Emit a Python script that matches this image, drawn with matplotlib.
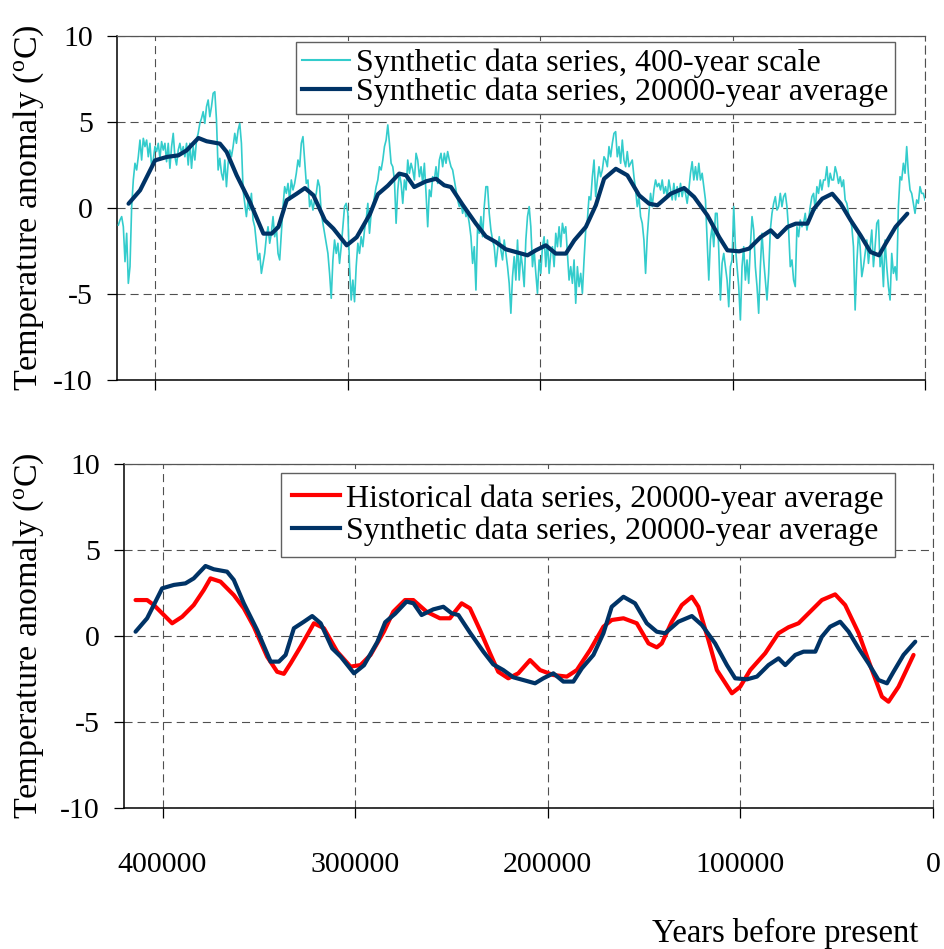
import numpy as np
import matplotlib
matplotlib.use("Agg")
import matplotlib.pyplot as plt
from matplotlib.lines import Line2D

plt.rcParams['font.family'] = ['Liberation Serif', 'DejaVu Serif']
plt.rcParams['mathtext.fontset'] = 'custom'
plt.rcParams['mathtext.rm'] = 'Liberation Serif'
plt.rcParams['lines.scale_dashes'] = False

# ---------------- data ----------------
# Synthetic data series, 400-year scale (sampled evenly from ~419300 BP to present)
cyan_start, cyan_end = 419300, 0
cyan_values = [
    # 419k - 315k
    -0.99, -0.70, -0.50, -1.09, -3.12, -1.47, -4.38, -3.41, 0.08, 1.63,
    2.60, 2.21, 2.98, 3.95, 2.79, 4.05, 3.57, 3.95, 2.98, 3.76,
    2.40, 2.79, 3.57, 3.28, 3.76, 2.89, 3.86, 3.37, 3.76, 2.69,
    3.76, 2.31, 3.57, 4.34, 2.98, 2.50, 3.37, 3.76, 3.18, 3.57,
    2.98, 3.76, 2.50, 3.76, 2.31, 3.57, 2.79, 3.95, 4.34, 4.92,
    5.21, 5.60, 4.92, 5.89, 6.28, 5.31, 5.89, 6.67, 6.76, 5.12,
    2.21, 2.89, 2.02, 1.63, 2.79, 1.24, 2.60, 3.37, 2.98, 3.57,
    4.34, 3.76, 4.53, 4.92, 3.76, 1.05, 0.27, -0.50, 0.47, -0.12,
    0.85, -0.70, -1.09, -2.05, -3.02, -2.64, -3.80, -3.22, -2.64, -1.67,
    -1.09, -2.05, -1.47, -0.50, -1.67, -1.09, -2.64, -3.02, -1.47, 0.08,
    1.24, 0.85, 1.43, 0.47, 1.63, 1.05, 1.43, 2.02, 2.79, 2.40,
    3.76, 4.15, 2.79, 1.43, 1.63, 0.08, 0.47, -0.12, 0.47, 0.85,
    # 315k - 211k
    1.63, 1.24, -0.31, -0.89, -1.47, -2.05, -2.64, -3.80, -5.25, -3.02,
    -1.86, -2.64, -2.05, -3.22, -2.25, -1.09, 0.08, 0.27, -0.31, -3.41,
    -5.35, -4.19, -5.45, -3.41, -2.05, -2.64, -1.67, -2.25, -1.28, -0.70,
    0.27, -1.47, -0.31, 0.08, 0.66, 1.24, 1.63, 2.40, 2.21, 2.79,
    3.57, 3.95, 4.83, 3.76, 2.60, 2.40, 1.63, -0.89, 1.05, 2.02,
    1.43, 0.27, 1.63, 1.05, 2.79, 2.02, 2.60, 2.21, 1.63, 3.18,
    2.79, 1.82, 2.40, 1.43, 2.60, 0.85, -1.09, 1.05, 0.66, 1.82,
    1.63, 2.40, 1.43, 2.79, 3.18, 2.40, 3.18, 2.60, 3.28, 2.79,
    2.40, 2.21, 1.63, 1.05, 0.47, 0.08, 0.27, -0.31, 0.08, -0.50,
    -0.31, -0.89, -1.67, -3.22, -2.25, -4.77, -1.09, -1.47, -0.50, -1.67,
    0.08, 1.24, 1.24, -0.31, -1.28, -1.86, -2.25, -3.41, -2.44, -1.67,
    -2.44, -3.02, -1.86, -2.64, -3.41, -4.38, -6.12, -3.99, -2.83, -4.19,
    # 211k - 108k
    -1.86, -4.19, -2.64, -3.41, -4.57, -1.86, -0.50, 0.08, -1.09, -3.41,
    -2.44, -3.80, -4.96, -3.02, -3.80, -2.25, -1.67, -3.41, -1.86, -3.80,
    -2.64, -2.25, -3.41, -1.47, -2.25, -1.09, -2.25, -0.89, -1.47, -1.09,
    -2.64, -4.19, -3.41, -4.38, -3.02, -5.54, -3.41, -4.57, -3.80, -4.96,
    -3.02, -1.28, -0.70, 0.66, 0.47, 1.82, 2.79, 0.66, 1.63, 2.40,
    1.82, 2.21, 2.98, 2.79, 2.40, 3.57, 2.98, 3.76, 4.34, 4.44,
    2.98, 3.57, 2.60, 3.95, 2.79, 2.40, 3.28, 2.40, 2.60, 2.79,
    1.82, 1.05, 0.08, 0.66, -0.50, -0.89, -1.86, -3.80, -1.67, -0.31,
    0.85, 0.08, 1.05, 1.63, 1.24, 1.43, 1.05, 1.63, 0.85, 1.24,
    0.66, 1.63, 1.05, 0.47, 1.43, 0.47, 1.24, 0.66, 1.43, 0.66,
    1.24, 0.85, 0.27, 1.05, 2.02, 2.69, 1.63, 2.40, 1.63, 2.60,
    1.63, 2.02, 1.24, 0.47, -1.86, -4.19, -1.86, -1.09, -2.25, -0.31,
    # 108k - 0
    -0.31, -2.44, -5.35, -3.22, -2.64, -3.41, -4.19, -5.74, -3.41, -3.02,
    0.08, -2.25, -3.41, -4.57, -6.51, -3.41, -2.25, -4.19, -3.02, -4.38,
    -2.25, -0.50, -1.28, -3.41, -4.57, -6.12, -3.41, -1.47, -3.02, -4.19,
    -5.35, -3.80, -1.28, -0.31, 0.27, 0.66, -0.12, 0.08, 0.85, 0.08,
    0.66, 0.85, 0.08, -1.28, -3.41, -3.02, -4.19, -4.57, -1.09, -1.67,
    -0.70, -1.09, -0.89, -0.31, -1.28, -0.70, 0.08, 0.66, 0.85, -0.12,
    1.24, 0.85, 1.63, 1.05, 1.63, 1.63, 2.40, 1.24, 2.02, 1.63,
    1.63, 2.40, 2.02, 1.43, 1.82, 1.24, 1.63, 0.47, 0.27, -0.31,
    -0.70, -1.09, -2.25, -5.93, -3.22, -1.47, -2.25, -3.99, -3.41, -2.64,
    -1.86, -3.22, -2.25, -1.28, -3.41, -2.25, -0.89, -0.70, -3.41, -2.64,
    -4.57, -1.86, -3.41, -4.57, -5.35, -2.64, -3.80, -3.41, -4.19, 0.08,
    1.82, 1.63, 2.60, 2.02, 3.57, 2.02, 1.05, 0.85, 0.27, -0.31,
    0.47, 0.27, 1.24, 0.85, 0.85, 0.47,
]
cyan_years = np.linspace(cyan_start, cyan_end, len(cyan_values))

# Synthetic data series, 20000-year average
syn_years = [414000, 408000, 402800, 400200, 394100, 388100, 383800, 377700, 373400, 366500,
             363000, 357800, 350900, 343900, 339600, 336100, 331800, 326600, 322300, 317900,
             311900, 307500, 300600, 295400, 288500, 284400, 279200, 273300, 269700, 265500,
             259400, 254200, 249900, 246400, 240400, 233500, 228300, 223100, 217900, 212700,
             206600, 202300, 197100, 191900, 186700, 182300, 176300, 171100, 166800, 160700,
             154700, 148600, 143400, 139100, 132200, 125200, 120000, 113100, 107000, 102700,
             96600, 91400, 85400, 80200, 76700, 71500, 67200, 61100, 57700, 53400,
             48200, 43800, 38600, 33500, 28300, 23900, 20500, 15300, 9200]
syn_values = [0.25, 1.03, 2.19, 2.77, 2.97, 3.06, 3.35, 4.07, 3.88, 3.74,
              3.26, 1.90, 0.35, -1.49, -1.49, -1.10, 0.45, 0.83, 1.16, 0.74,
              -0.72, -1.20, -2.17, -1.70, -0.35, 0.80, 1.30, 2.00, 1.90, 1.22,
              1.55, 1.70, 1.32, 1.22, 0.20, -0.90, -1.65, -1.98, -2.40, -2.56,
              -2.75, -2.46, -2.17, -2.65, -2.65, -1.88, -1.10, 0.16, 1.70, 2.28,
              1.90, 0.74, 0.25, 0.16, 0.83, 1.16, 0.64, -0.43, -1.69, -2.46,
              -2.52, -2.36, -1.69, -1.30, -1.69, -1.10, -0.91, -0.91, -0.04, 0.54,
              0.83, 0.25, -0.72, -1.59, -2.56, -2.75, -2.08, -1.10, -0.33]

# Historical data series, 20000-year average
hist_years = [414000, 408000, 404500, 395000, 389800, 383800, 378600, 375100, 369900, 363000,
              357800, 352600, 345700, 340500, 337000, 333500, 328300, 321400, 316200, 309300,
              302400, 297200, 292000, 285100, 280200, 274100, 269800, 262900, 256000, 250800,
              248200, 244700, 240400, 235200, 230000, 225700, 220500, 215300, 209200, 204000,
              197100, 190100, 184900, 178000, 171100, 166800, 160700, 153800, 147700, 143400,
              140800, 135600, 130400, 125200, 121800, 116600, 112200, 104400, 100100, 94900,
              87100, 80200, 75000, 69800, 64600, 57700, 50800, 45600, 38600, 31700,
              26500, 23100, 17900, 10100]
hist_values = [2.09, 2.09, 1.80, 0.74, 1.12, 1.80, 2.67, 3.35, 3.16, 2.38,
               1.61, 0.54, -1.20, -2.08, -2.20, -1.59, -0.62, 0.74, 0.45, -0.91,
               -1.78, -1.69, -1.10, 0.25, 1.41, 2.09, 2.09, 1.41, 1.03, 1.03,
               1.41, 1.90, 1.61, 0.35, -1.00, -2.08, -2.46, -2.17, -1.40, -1.98,
               -2.27, -2.36, -1.98, -0.81, 0.54, 0.93, 1.03, 0.74, -0.43, -0.66,
               -0.43, 0.83, 1.80, 2.28, 1.70, -0.23, -1.98, -3.33, -2.95, -1.98,
               -1.00, 0.16, 0.51, 0.74, 1.32, 2.09, 2.42, 1.80, 0.16, -1.98,
               -3.53, -3.82, -2.95, -1.10]

x_ticks = [400000, 300000, 200000, 100000, 0]
x_ticklabels = ['400000', '300000', '200000', '100000', '0']
y_ticks = [-10, -5, 0, 5, 10]
y_ticklabels = ['-10', '-5', '0', '5', '10']

label_cyan = 'Synthetic data series, 400-year scale'
label_syn = 'Synthetic data series, 20000-year average'
label_hist = 'Historical data series, 20000-year average'
ylabel = r'Temperature anomaly ($\mathregular{^o}$C)'
xlabel = 'Years before present'

# ---------------- style ----------------
C_CYAN = '#33CCCC'
C_NAVY = '#003366'
C_RED = '#FF0000'
GRID = '#505050'
FS_TICK = 21.5
FS_LEG = 23
FS_YLAB = 24.5
FS_XLAB = 23.5
DASH = (0, (5.8, 3.6))

W, H = 945, 949
fig = plt.figure(figsize=(W / 100, H / 100), dpi=100)


def make_axes(left, top, right, bottom):
    return fig.add_axes([left / W, 1 - bottom / H, (right - left) / W, (bottom - top) / H])


ax1 = make_axes(117, 36, 925, 380)
ax2 = make_axes(124, 464, 933, 808)

for ax, lx in ((ax1, 117), (ax2, 124)):
    ax.set_xlim(420000, 0)
    ax.set_ylim(-10, 10)
    ax.set_xticks(x_ticks)
    ax.set_yticks(y_ticks)
    ax.set_yticklabels(y_ticklabels)
    ax.set_xticklabels(x_ticklabels)
    ax.grid(True, linestyle=DASH, color=GRID, linewidth=0.8)
    ax.set_axisbelow(True)
    ax.tick_params(direction='out', length=7.5, width=0.9, color='black',
                   labelsize=FS_TICK)
    ax.tick_params(axis='y', pad=10)
    ax.tick_params(axis='x', pad=24)
    for s in ('left', 'bottom'):
        ax.spines[s].set_color('black')
        ax.spines[s].set_linewidth(1.1)
    ax.spines['top'].set_color('#555555')
    ax.spines['top'].set_linewidth(0.9)
    ax.spines['right'].set_linestyle(DASH)
    ax.spines['right'].set_color(GRID)
    ax.spines['right'].set_linewidth(0.8)
    ax.set_ylabel(ylabel, fontsize=FS_YLAB)
    ax.yaxis.set_label_coords((46 - lx) / (925 - 117), 0.5)

ax1.tick_params(axis='x', labelbottom=False)

# top panel
ax1.plot(cyan_years, cyan_values, color=C_CYAN, lw=1.2, zorder=3)
ax1.plot(syn_years, syn_values, color=C_NAVY, lw=3.0, zorder=4,
         solid_joinstyle='round', solid_capstyle='round')

# bottom panel
ax2.plot(hist_years, hist_values, color=C_RED, lw=3.0, zorder=3,
         solid_joinstyle='round', solid_capstyle='round')
ax2.plot(syn_years, syn_values, color=C_NAVY, lw=3.0, zorder=4,
         solid_joinstyle='round', solid_capstyle='round')

h1 = [Line2D([], [], color=C_CYAN, lw=1.5), Line2D([], [], color=C_NAVY, lw=3.0)]
leg1 = ax1.legend(h1, [label_cyan, label_syn], loc='upper right',
                  bbox_to_anchor=(0.963, 0.983), borderaxespad=0, fontsize=FS_LEG,
                  fancybox=False, framealpha=1, edgecolor='#606060',
                  handlelength=1.5, handletextpad=0.2, labelspacing=0.0,
                  borderpad=0.2)
leg1.get_frame().set_linewidth(1.0)

h2 = [Line2D([], [], color=C_RED, lw=3.0), Line2D([], [], color=C_NAVY, lw=3.0)]
leg2 = ax2.legend(h2, [label_hist, label_syn], loc='upper right',
                  bbox_to_anchor=(0.953, 0.974), borderaxespad=0, fontsize=FS_LEG,
                  fancybox=False, framealpha=1, edgecolor='#606060',
                  handlelength=1.5, handletextpad=0.2, labelspacing=0.1,
                  borderpad=0.35)
leg2.get_frame().set_linewidth(1.0)

fig.text(918 / W, 1 - 933 / H, xlabel, fontsize=FS_XLAB, ha='right', va='center')

fig.savefig('out.png', dpi=100)
